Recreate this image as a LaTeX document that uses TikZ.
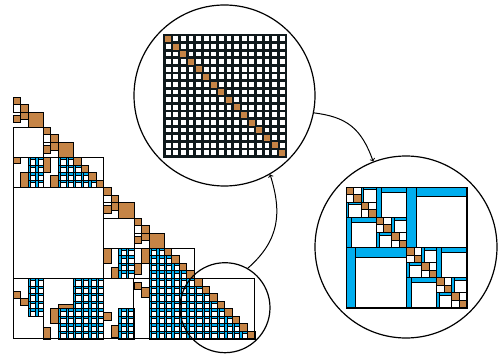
\documentclass[tikz,border=0pt]{standalone}
\usepackage{tikz}
\definecolor{hbrown}{RGB}{197,132,70}
\definecolor{hblue}{RGB}{0,174,239}
\definecolor{gridgray}{RGB}{15,25,28}

\begin{document}
\begin{tikzpicture}[x=1pt, y=1pt,
    dense/.style={fill=hbrown, draw=black, line width=0.8pt},
    plain/.style={fill=white, draw=black, line width=0.7pt},
    frame/.style={draw=black, line width=1pt},
    gridline/.style={draw=gridgray, line width=2.8pt, line cap=rect},
    lens/.style={circle, draw=black, line width=1.2pt, inner sep=0pt, minimum size=#1},
    zoomarrow/.style={->, line width=1pt},
    pics/lrblock/.style 2 args={code={
        \fill[hblue] (0,0) rectangle (#1,#1);
        \draw[plain] (#2,#2) rectangle (#1,#1);
        \draw[line width=0.8pt] (0,0) rectangle (#1,#1);
        \draw[line width=0.7pt] (#2,0) -- (#2,#1);
    }}]

    \useasboundingbox (0,0) rectangle (498,354);

    \begin{scope}[shift={(13pt,257pt)}, x=7.56pt, y=-7.56pt]
        \draw[plain] (0,4) rectangle (4,8);
        \draw[plain] (12,16) rectangle (16,20);

        \foreach \o in {0,4,12,16}
        {
            \draw[dense] (\o,\o) rectangle ++(1,1);
            \draw[plain] (\o,\o+1) rectangle ++(1,1);
            \draw[dense] (\o+1,\o+1) rectangle ++(1,1);
            \draw[dense] (\o+1,\o+2) rectangle ++(1,1);
            \draw[dense] (\o,\o+2.4) rectangle ++(1,1);
            \draw[dense] (\o+2,\o+2) rectangle ++(2,2);
        }

        \foreach \c/\r/\w/\h in {0/8/1/0.8, 1/10/1/2, 4/8/1/2, 5/10.4/1/1.6,
            12/20/1/2, 13/22.5/1/1.5, 16/22/1/1.5, 17/20/1/2,
            0/25.7/1/1, 1/26.6/1/1, 4/30.5/1/1.5, 5/28/1/2, 6/27.4/2/0.6,
            12/28.5/1/1, 13/30.2/1/1.6, 16/24.5/1/1, 17/25.2/1/1.3}
        {
            \draw[dense] (\c,\r) rectangle ++(\w,\h);
        }

        \foreach \ca/\cb/\ra/\rb in {2/3/8/11, 6/7/8/11, 14/15/20/23, 18/19/20/23,
            2/3/24/28, 6/7/28/31, 8/11/24/31, 14/15/28/31, 18/23/24/31}
        {
            \foreach \c in {\ca,...,\cb}
                \foreach \r in {\ra,...,\rb}
                    \pic at (\c,\r) {lrblock={1}{0.3}};
        }

        \foreach \d/\n in {8/3, 20/3, 24/7}
        {
            \foreach \i in {1,...,\n}
                \foreach \j in {1,...,\i}
                    \pic at (\d+\j-1,\d+\i) {lrblock={1}{0.3}};
        }

        \foreach \i in {8,...,11}
        {
            \draw[dense] (\i,\i) rectangle ++(1,1);
        }
        \foreach \i in {20,...,31}
        {
            \draw[dense] (\i,\i) rectangle ++(1,1);
        }

        \draw[frame] (0,8) rectangle (12,12);
        \draw[frame] (0,12) rectangle (12,24);
        \draw[frame] (12,20) rectangle (24,24);
        \draw[frame] (0,24) rectangle (32,32);
        \draw[frame] (4,24) -- (4,30.5);
        \draw[frame] (12,24) -- (12,32);
        \draw[frame] (16,24) -- (16,32);
    \end{scope}

    \node[lens=181pt] (zoomtop) at (224.5,258.5) {};
    \begin{scope}[shift={(164.3pt,319pt)}, x=7.6pt, y=-7.6pt]
        \foreach \i in {0,...,15}
        {
            \fill[hbrown] (\i,\i) rectangle ++(1,1);
        }
        \foreach \i in {0,...,16}
        {
            \draw[gridline] (\i,0) -- (\i,16);
            \draw[gridline] (0,\i) -- (16,\i);
        }
        \foreach \i in {0,...,15}
        {
            \fill[hbrown] (\i+0.12,\i+0.12) rectangle ++(0.8,0.8);
        }
    \end{scope}

    \node[lens=182pt] (zoomright) at (406,107) {};
    \begin{scope}[shift={(346pt,167pt)}, x=7.56pt, y=-7.56pt]
        \foreach \i in {0,...,15}
        {
            \draw[dense] (\i,\i) rectangle ++(1,1);
        }
        \foreach \k in {0,...,7}
        {
            \draw[plain] (2*\k+1,2*\k) rectangle ++(1,1);
            \draw[plain] (2*\k,2*\k+1) rectangle ++(1,1);
        }
        \foreach \k in {0,...,3}
        {
            \pic at (4*\k+2,4*\k) {lrblock={2}{0.35}};
            \pic at (4*\k,4*\k+2) {lrblock={2}{0.35}};
        }
        \foreach \k in {0,1}
        {
            \pic at (8*\k+4,8*\k) {lrblock={4}{0.65}};
            \pic at (8*\k,8*\k+4) {lrblock={4}{0.65}};
        }
        \pic at (8,0) {lrblock={8}{1.3}};
        \pic at (0,8) {lrblock={8}{1.3}};
        \draw[frame] (0,0) rectangle (16,16);
    \end{scope}

    \node[lens=90pt] (zoomsmall) at (225,46.3) {};

    \draw[zoomarrow] (zoomsmall.60) .. controls +(32,28) and +(12,-38) .. (zoomtop.-60);
    \draw[zoomarrow] (zoomtop.-11) .. controls +(32,-4) and +(-12,34) .. (zoomright.111);

\end{tikzpicture}
\end{document}
